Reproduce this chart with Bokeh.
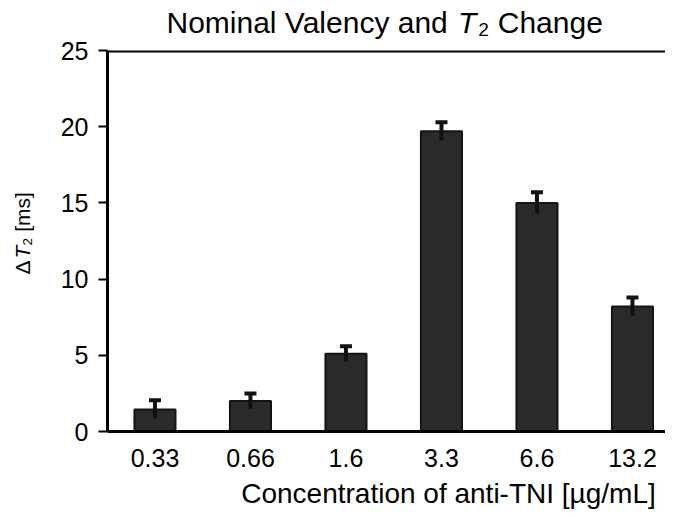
import math
from bokeh.plotting import figure
from bokeh.models import (ColumnDataSource, FixedTicker, Range1d, Label, Span)
from bokeh.embed import file_html
from bokeh.resources import INLINE

# ---------------- data ----------------
categories = ["0.33", "0.66", "1.6", "3.3", "6.6", "13.2"]
delta_t2 = [1.45, 2.0, 5.1, 19.7, 15.0, 8.2]
errors = [0.6, 0.5, 0.5, 0.6, 0.7, 0.6]
y_ticks = [0, 5, 10, 15, 20, 25]

# ---------------- layout ----------------
W, H = 665, 509
B_LEFT, B_RIGHT, B_TOP, B_BOTTOM = 107, 0, 50, 78
PX_PER_CAT = 95.5
X_START = -0.497
X_END = X_START + (W - B_LEFT - B_RIGHT) / PX_PER_CAT
Y_START, Y_END = 0, 25
FONT = "Liberation Sans"
MID = 0.3465   # distance (in em) from alphabetic baseline to the em-box middle

frame_w = W - B_LEFT - B_RIGHT
frame_h = H - B_TOP - B_BOTTOM
sx = frame_w / (X_END - X_START)
sy = frame_h / (Y_END - Y_START)


def dx(px):
    """canvas pixel x -> data x"""
    return X_START + (px - B_LEFT) / sx


def dy(py):
    """canvas pixel y -> data y"""
    return Y_START + (B_TOP + frame_h - py) / sy


xs = list(range(len(categories)))
source = ColumnDataSource(data=dict(
    x=xs,
    top=delta_t2,
    upper=[v + e for v, e in zip(delta_t2, errors)],
    lower=[v - e for v, e in zip(delta_t2, errors)],
))

p = figure(width=W, height=H, output_backend="svg", toolbar_location=None,
           x_range=Range1d(X_START, X_END), y_range=Range1d(Y_START, Y_END),
           min_border_left=B_LEFT, min_border_right=B_RIGHT,
           min_border_top=B_TOP, min_border_bottom=B_BOTTOM)
p.outline_line_color = None
p.xgrid.visible = False
p.ygrid.visible = False
p.background_fill_color = "white"
p.border_fill_color = "white"

# ---------------- bars and error bars ----------------
p.vbar(x="x", top="top", width=0.43, bottom=0, source=source,
       fill_color="#2a2a2a", line_color="#141414", line_width=2)
p.segment(x0="x", y0="lower", x1="x", y1="upper", source=source,
          line_color="#111111", line_width=4)
p.rect(x="x", y="upper", width=12, height=4, width_units="screen",
       height_units="screen", source=source,
       fill_color="#111111", line_color=None)

# top frame line
p.add_layout(Span(location=Y_END, dimension="width", line_color="black",
                  line_width=4))

# ---------------- axes ----------------
yax = p.yaxis[0]
yax.ticker = FixedTicker(ticks=y_ticks, minor_ticks=[])
yax.axis_line_width = 3
yax.axis_line_color = "black"
yax.major_tick_out = 9
yax.major_tick_in = 0
yax.major_tick_line_width = 2
yax.minor_tick_out = 0
yax.minor_tick_in = 0
yax.major_label_standoff = 10
yax.major_label_text_font = FONT
yax.major_label_text_font_size = "25px"
yax.major_label_text_color = "black"

xax = p.xaxis[0]
xax.ticker = FixedTicker(ticks=xs, minor_ticks=[])
xax.major_label_overrides = {i: c for i, c in enumerate(categories)}
xax.axis_line_width = 3
xax.axis_line_color = "black"
xax.major_tick_out = 0
xax.major_tick_in = 0
xax.minor_tick_out = 0
xax.minor_tick_in = 0
xax.major_label_standoff = 17
xax.major_label_text_font = FONT
xax.major_label_text_font_size = "25px"
xax.major_label_text_color = "black"


def lab(text, px, py, size, panel, italic=False, rotated=False, align="left"):
    """(px, py) is the canvas point of the text baseline.
    Labels live in side panels so they are not clipped to the plot frame."""
    off = MID * size
    if rotated:
        ax, ay, angle = px - off, py, math.pi / 2
    else:
        ax, ay, angle = px, py - off, 0.0
    p.add_layout(Label(x=dx(ax), y=dy(ay), text=text, angle=angle,
                       text_align=align, text_baseline="middle",
                       text_font=FONT, text_font_size=f"{size}px",
                       text_font_style="italic" if italic else "normal",
                       text_color="black"), panel)


# ---------------- title: regular text with a gap for the italic T ----------------
TS = 30
T_START = 166                       # canvas x of the title start
T_POS = T_START + 9.448 * TS + 8    # after "Nominal Valency and" + a space
lab("Nominal Valency and\u2003\u2082 Change", T_START, 32, TS, "above")
lab("T", T_POS, 32, TS, "left", italic=True)

# ---------------- y axis label (rotated) with italic T ----------------
YS = 21
Y_BASE_X = 29      # canvas x of rotated baseline
Y_START_Y = 274    # canvas y where label starts (bottom)
lab("\u0394\u2002\u2009\u2082 [ms]", Y_BASE_X, Y_START_Y, YS, "left", rotated=True)
lab("T", Y_BASE_X, Y_START_Y - 0.667 * YS - 2, YS, "above", italic=True, rotated=True)

# ---------------- x axis label ----------------
lab("Concentration of anti-TNI [µg/mL]", 448, 503, 28, "below", align="center")

open("out.html", "w").write(file_html(p, INLINE))
